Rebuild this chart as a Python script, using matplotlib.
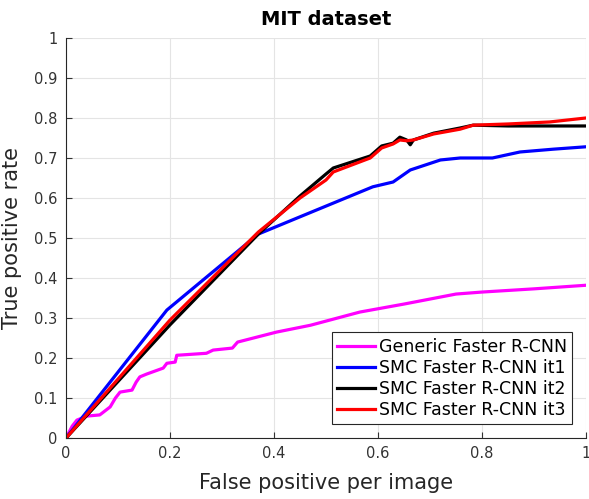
import matplotlib
matplotlib.use("Agg")
import matplotlib.pyplot as plt

title = "MIT dataset"
xlabel = "False positive per image"
ylabel = "True positive rate"
labels = ["Generic Faster R-CNN", "SMC Faster R-CNN it1", "SMC Faster R-CNN it2", "SMC Faster R-CNN it3"]
colors = ["#ff00ff", "#0000ff", "#000000", "#ff0000"]

generic_x = [0.0, 0.012, 0.021, 0.04, 0.065, 0.075, 0.085, 0.095, 0.104, 0.127, 0.135, 0.142, 0.155, 0.187, 0.194, 0.21, 0.213, 0.27, 0.283, 0.32, 0.33, 0.405, 0.47, 0.565, 0.65, 0.75, 0.8, 0.9, 1.0]
generic_y = [0.0, 0.03, 0.045, 0.055, 0.058, 0.068, 0.078, 0.1, 0.115, 0.12, 0.14, 0.153, 0.16, 0.175, 0.187, 0.19, 0.207, 0.212, 0.22, 0.225, 0.24, 0.265, 0.282, 0.315, 0.335, 0.36, 0.365, 0.373, 0.382]

it1_x = [0.0, 0.194, 0.37, 0.45, 0.59, 0.629, 0.662, 0.72, 0.758, 0.82, 0.873, 0.937, 1.0]
it1_y = [0.0, 0.32, 0.51, 0.553, 0.628, 0.64, 0.67, 0.695, 0.70, 0.70, 0.715, 0.722, 0.728]

it2_x = [0.0, 0.2, 0.37, 0.45, 0.5, 0.514, 0.585, 0.607, 0.629, 0.642, 0.655, 0.662, 0.668, 0.707, 0.758, 0.783, 0.85, 1.0]
it2_y = [0.0, 0.283, 0.51, 0.605, 0.66, 0.675, 0.705, 0.73, 0.737, 0.752, 0.745, 0.733, 0.745, 0.762, 0.775, 0.782, 0.78, 0.78]

it3_x = [0.0, 0.2, 0.37, 0.45, 0.5, 0.514, 0.585, 0.607, 0.629, 0.642, 0.655, 0.668, 0.707, 0.758, 0.783, 0.85, 0.93, 1.0]
it3_y = [0.0, 0.295, 0.515, 0.6, 0.645, 0.665, 0.7, 0.725, 0.735, 0.745, 0.743, 0.745, 0.76, 0.772, 0.782, 0.785, 0.79, 0.80]

fig = plt.figure(figsize=(5.89, 4.99), dpi=100)
ax = fig.add_axes([0.112, 0.122, 0.883, 0.802])

series = [(generic_x, generic_y), (it1_x, it1_y), (it2_x, it2_y), (it3_x, it3_y)]
for (xs, ys), lab, c in zip(series, labels, colors):
    ax.plot(xs, ys, color=c, lw=2.3, label=lab, solid_joinstyle="round")

ax.set_xlim(0, 1)
ax.set_ylim(0, 1)
ax.set_xticks([0, 0.2, 0.4, 0.6, 0.8, 1])
ax.set_xticklabels(["0", "0.2", "0.4", "0.6", "0.8", "1"])
ax.set_yticks([i / 10 for i in range(11)])
ax.set_yticklabels(["0"] + [f"{i/10:.1f}" for i in range(1, 10)] + ["1"])
ax.grid(True, color="#e4e4e4", lw=0.8)
ax.set_axisbelow(True)
ax.tick_params(direction="in", length=4, labelsize=10.5, colors="#333333", pad=6)
for s in ["top", "right"]:
    ax.spines[s].set_visible(False)
for s in ["left", "bottom"]:
    ax.spines[s].set_color("#262626")
    ax.spines[s].set_linewidth(0.8)

ax.set_title(title, fontsize=14, fontweight="bold", pad=9)
ax.set_xlabel(xlabel, fontsize=15, color="#262626", labelpad=8)
ax.set_ylabel(ylabel, fontsize=15, color="#262626", labelpad=9)

leg = ax.legend(loc="lower right", fontsize=12.5, handlelength=2.2, handletextpad=0.2,
                labelspacing=0.18, borderpad=0.3, fancybox=False, framealpha=1,
                edgecolor="#262626", borderaxespad=0.8)
leg.get_frame().set_linewidth(0.8)

fig.savefig("out.png", dpi=100)
